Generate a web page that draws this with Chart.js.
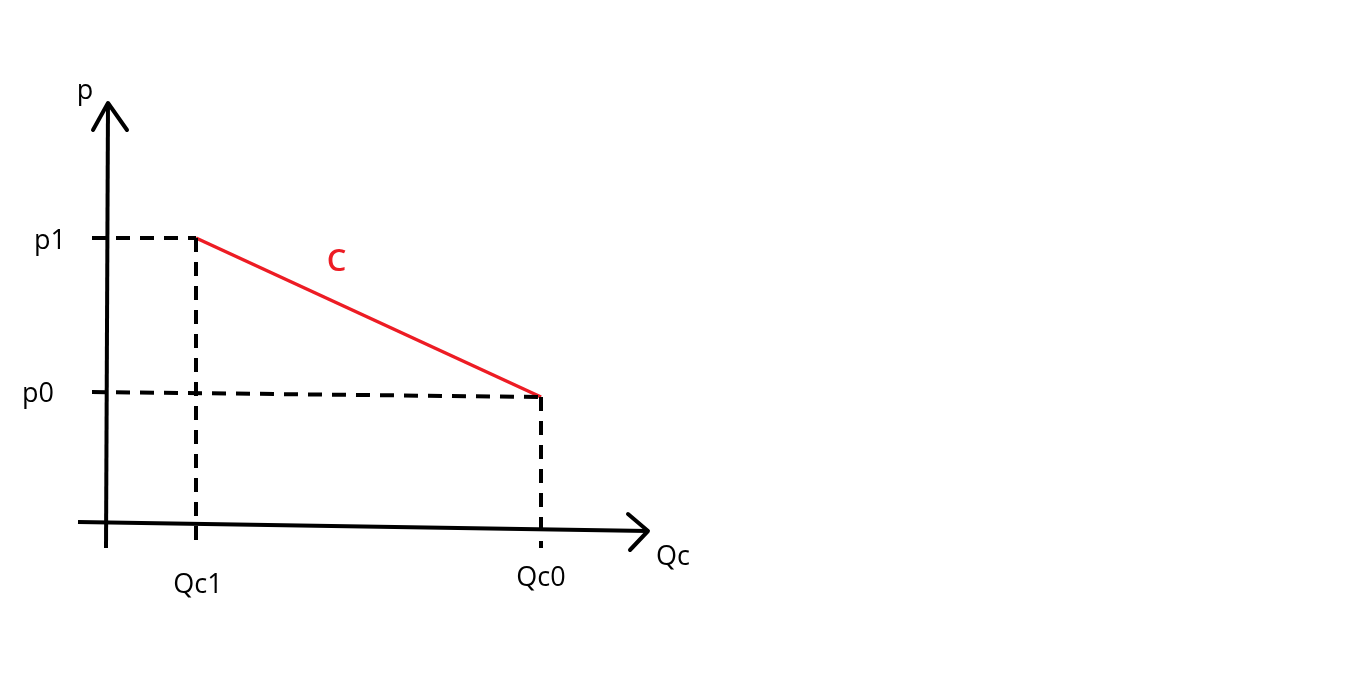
<!DOCTYPE html>
<html>
<head>
<meta charset="utf-8">
<script src="https://cdn.jsdelivr.net/npm/chart.js@4"></script>
<style>
  html, body { margin: 0; padding: 0; background: #fff; }
  #wrap { width: 1350px; height: 679px; }
</style>
</head>
<body>
<div id="wrap"><canvas id="chart" width="1350" height="679"></canvas></div>
<script>
// 数量 (Qc) と価格 (p) の値
const qLabels = ['Qc1', 'Qc0'];
const qValues = [9, 43.5];
const pLabels = ['p1', 'p0'];
const pValues = [28.5, 13.1];

// 曲線 C (p1,Qc1) -> (p0,Qc0)
const curveLabel = 'C';
const curveX = [9, 43.5];
const curveY = [28.5, 12.6];

// 手描きの軸 (少し傾いている)
const xAxisX = [-2.8, 54.2];
const xAxisY = [0.1, -0.8];
const yAxisX = [0, 0.2];
const yAxisY = [-2.5, 42];
const axisNames = ['p', 'Qc'];

// 補助線 (破線)
const p1GuideX = [-1.4, 9];
const p1GuideY = [28.5, 28.5];
const p0GuideX = [-1.4, 43.5];
const p0GuideY = [13.1, 12.6];
const q1GuideX = [9, 9];
const q1GuideY = [28.5, -1.7];
const q0GuideX = [43.5, 43.5];
const q0GuideY = [12.6, -2.5];

const toPts = (xs, ys) => xs.map((x, i) => ({ x, y: ys[i] }));

function lineSet(xs, ys, color, width, dash) {
    return {
        data: toPts(xs, ys),
        showLine: true,
        borderColor: color,
        borderWidth: width,
        borderDash: dash || [],
        pointRadius: 0,
        fill: false,
        borderCapStyle: 'butt'
    };
}

// 矢印の先端 (軸の端点から描く)
const arrowPlugin = {
    id: 'arrows',
    afterDatasetsDraw(chart) {
        const { ctx, scales: { x, y } } = chart;
        ctx.save();
        ctx.strokeStyle = '#000';
        ctx.lineWidth = 4;
        ctx.lineCap = 'round';
        ctx.lineJoin = 'round';
        // y 軸
        const tx = x.getPixelForValue(yAxisX[1]);
        const ty = y.getPixelForValue(yAxisY[1]);
        ctx.beginPath();
        ctx.moveTo(tx - 15, ty + 27);
        ctx.lineTo(tx, ty);
        ctx.lineTo(tx + 19, ty + 27);
        ctx.stroke();
        // x 軸
        const ax = x.getPixelForValue(xAxisX[1]);
        const ay = y.getPixelForValue(xAxisY[1]);
        ctx.beginPath();
        ctx.moveTo(ax - 20, ay - 17);
        ctx.lineTo(ax, ay);
        ctx.lineTo(ax - 18, ay + 19);
        ctx.stroke();
        ctx.restore();
    }
};

// ラベル
const labelPlugin = {
    id: 'labels',
    afterDatasetsDraw(chart) {
        const { ctx, scales: { x, y } } = chart;
        const font = '27px "Open Sans", "Noto Sans", sans-serif';
        const put = (text, px, py, align, color, f) => {
            ctx.font = f || font;
            ctx.fillStyle = color || '#000';
            ctx.textAlign = align;
            ctx.textBaseline = 'middle';
            ctx.fillText(text, px, py);
        };
        ctx.save();
        const ox = x.getPixelForValue(0);
        const oy = y.getPixelForValue(0);
        put(axisNames[0], x.getPixelForValue(yAxisX[1]) - 23, y.getPixelForValue(yAxisY[1]) - 12, 'center');
        put(axisNames[1], x.getPixelForValue(xAxisX[1]) + 25, y.getPixelForValue(xAxisY[1]) + 26, 'center');
        put(pLabels[0], ox - 40, y.getPixelForValue(pValues[0]) + 3, 'right');
        put(pLabels[1], ox - 52, y.getPixelForValue(pValues[1]) + 2, 'right');
        put(qLabels[0], x.getPixelForValue(qValues[0]) + 2, oy + 62, 'center');
        put(qLabels[1], x.getPixelForValue(qValues[1]), oy + 55, 'center');
        const mx = (x.getPixelForValue(curveX[0]) + x.getPixelForValue(curveX[1])) / 2;
        const my = (y.getPixelForValue(curveY[0]) + y.getPixelForValue(curveY[1])) / 2;
        put(curveLabel, mx - 32, my - 55, 'center', '#ed1c24', '600 31px "Open Sans", "Noto Sans", sans-serif');
        ctx.restore();
    }
};

new Chart(document.getElementById('chart'), {
    type: 'scatter',
    data: {
        datasets: [
            lineSet(p1GuideX, p1GuideY, '#000', 4, [14, 10]),
            lineSet(p0GuideX, p0GuideY, '#000', 4, [14, 10]),
            lineSet(q1GuideX, q1GuideY, '#000', 4, [14, 10]),
            lineSet(q0GuideX, q0GuideY, '#000', 4, [14, 10]),
            lineSet(xAxisX, xAxisY, '#000', 4),
            lineSet(yAxisX, yAxisY, '#000', 4),
            lineSet(curveX, curveY, '#ed1c24', 3.5)
        ]
    },
    options: {
        responsive: false,
        animation: false,
        layout: { padding: 0 },
        plugins: {
            legend: { display: false },
            tooltip: { enabled: false }
        },
        scales: {
            x: { type: 'linear', min: -10.6, max: 124.4, display: false },
            y: { type: 'linear', min: -15.6, max: 52.3, display: false }
        }
    },
    plugins: [arrowPlugin, labelPlugin]
});
</script>
</body>
</html>
